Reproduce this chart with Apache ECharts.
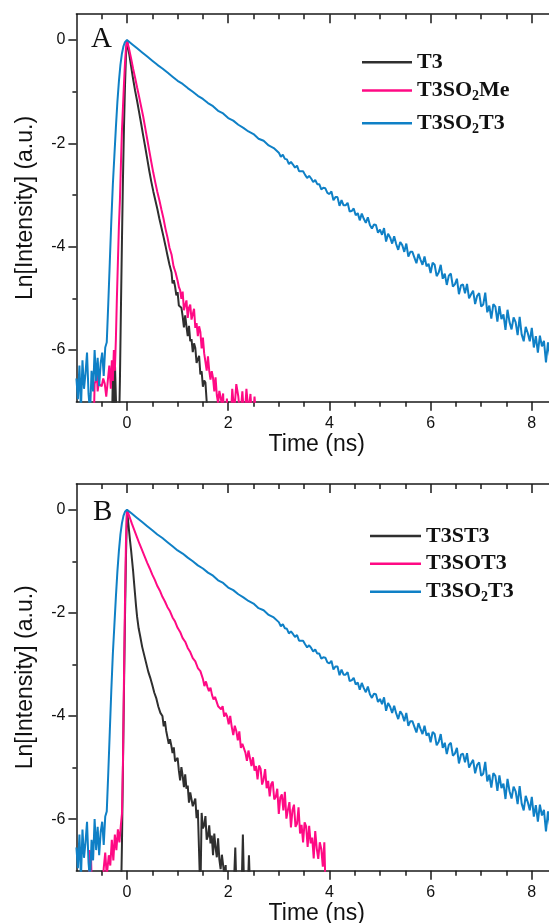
<!DOCTYPE html>
<html>
<head>
<meta charset="utf-8">
<script src="https://cdn.jsdelivr.net/npm/echarts@6.0.0/dist/echarts.min.js"></script>
<style>
html,body{margin:0;padding:0;background:#fff;}
#chart{width:549px;height:923px;}
</style>
</head>
<body>
<div id="chart"></div>
<script>
// ---------- axis ticks ----------
const xMajorTicks = [0, 2, 4, 6, 8];
const xMinorTicks = [-0.5, 0.5, 1, 1.5, 2.5, 3, 3.5, 4.5, 5, 5.5, 6.5, 7, 7.5];
const yMajorTicks = [0, -2, -4, -6];
const yMinorTicks = [-1, -3, -5];

// ---------- T3SO2T3 (same trace in both panels) ----------
const blueT = [-1.00,-0.97,-0.94,-0.91,-0.88,-0.85,-0.82,-0.79,-0.76,-0.73,-0.70,-0.67,-0.64,-0.61,-0.58,-0.55,-0.52,-0.49,-0.46,-0.43,-0.40,-0.37,-0.34,-0.31,-0.28,-0.25,-0.22,-0.19,-0.16,-0.13,-0.10,-0.07,-0.04,0,
0.1,0.2,0.3,0.4,0.5,0.6,0.7,0.8,0.9,1.0,1.1,1.2,1.3,1.4,1.5,1.6,1.7,1.8,1.9,2.0,2.1,2.2,2.3,2.4,2.5,2.6,2.7,2.8,2.9,
3.00,3.04,3.08,3.12,3.16,3.20,3.24,3.28,3.32,3.36,3.40,3.44,3.48,3.52,3.56,3.60,3.64,3.68,3.72,3.76,3.80,3.84,3.88,3.92,3.96,
4.00,4.04,4.08,4.12,4.16,4.20,4.24,4.28,4.32,4.36,4.40,4.44,4.48,4.52,4.56,4.60,4.64,4.68,4.72,4.76,4.80,4.84,4.88,4.92,4.96,
5.00,5.04,5.08,5.12,5.16,5.20,5.24,5.28,5.32,5.36,5.40,5.44,5.48,5.52,5.56,5.60,5.64,5.68,5.72,5.76,5.80,5.84,5.88,5.92,5.96,
6.00,6.04,6.08,6.12,6.16,6.20,6.24,6.28,6.32,6.36,6.40,6.44,6.48,6.52,6.56,6.60,6.64,6.68,6.72,6.76,6.80,6.84,6.88,6.92,6.96,
7.00,7.04,7.08,7.12,7.16,7.20,7.24,7.28,7.32,7.36,7.40,7.44,7.48,7.52,7.56,7.60,7.64,7.68,7.72,7.76,7.80,7.84,7.88,7.92,7.96,
8.00,8.04,8.08,8.12,8.16,8.20,8.24,8.28,8.32,8.36,8.40,8.44,8.48];
const blueY = [-6.55,-6.95,-6.30,-7.15,-6.20,-6.75,-6.45,-6.05,-6.85,-7.20,-6.40,-6.80,-6.00,-6.60,-6.15,-6.70,-6.25,-6.05,-6.50,-5.95,-5.85,-5.10,-4.30,-3.50,-2.80,-2.25,-1.70,-1.20,-0.80,-0.48,-0.26,-0.12,-0.04,0,
-0.08,-0.16,-0.24,-0.32,-0.40,-0.48,-0.55,-0.63,-0.71,-0.79,-0.85,-0.93,-1.00,-1.08,-1.14,-1.22,-1.28,-1.37,-1.42,-1.51,-1.56,-1.64,-1.70,-1.77,-1.82,-1.91,-1.95,-2.04,-2.09,
-2.18,-2.26,-2.22,-2.30,-2.31,-2.40,-2.36,-2.41,-2.47,-2.43,-2.54,-2.54,-2.54,-2.61,-2.67,-2.63,-2.68,-2.75,-2.71,-2.79,-2.79,-2.89,-2.86,-2.87,-2.96,
-2.98,-2.93,-3.10,-3.04,-3.04,-3.21,-3.10,-3.20,-3.20,-3.15,-3.32,-3.31,-3.26,-3.39,-3.35,-3.49,-3.36,-3.46,-3.54,-3.43,-3.58,-3.65,-3.57,-3.58,-3.73,
-3.67,-3.77,-3.64,-3.90,-3.75,-3.82,-3.94,-3.80,-3.95,-4.06,-3.91,-3.97,-4.10,-3.94,-4.19,-4.10,-4.10,-4.21,-4.32,-4.14,-4.25,-4.35,-4.19,-4.38,-4.33,
-4.51,-4.31,-4.35,-4.57,-4.50,-4.35,-4.62,-4.52,-4.74,-4.56,-4.52,-4.77,-4.73,-4.62,-4.92,-4.75,-4.73,-4.90,-4.72,-5.00,-4.92,-4.85,-5.11,-4.95,-4.90,
-5.16,-5.12,-4.89,-5.27,-5.14,-5.39,-5.11,-5.16,-5.45,-5.15,-5.40,-5.31,-5.61,-5.22,-5.46,-5.60,-5.37,-5.46,-5.71,-5.36,-5.70,-5.83,-5.55,-5.67,-5.83,
-5.57,-5.95,-5.73,-6.05,-5.72,-5.93,-5.82,-6.24,-5.85,-6.12,-5.86,-6.10,-6.01];

// ---------- Panel A: T3 ----------
const t3T = [-1.00,-0.30,-0.28,-0.26,-0.24,-0.22,-0.20,-0.16,-0.14,-0.12,-0.10,-0.08,-0.06,-0.04,-0.02,0,
0.04,0.08,0.12,0.16,0.20,0.24,0.28,0.32,0.36,0.40,0.44,0.48,0.52,0.56,0.60,0.64,0.68,0.72,0.76,0.80,0.84,0.88,
0.900,0.925,0.950,0.975,1.000,1.025,1.050,1.075,1.100,1.125,1.150,1.175,1.200,1.225,1.250,1.275,1.300,1.325,1.350,1.375,1.400,1.425,1.450,1.475,1.500,1.525,1.550,1.575,1.600,8.5];
const t3Y = [-7.6,-7.6,-6.5,-7.3,-6.2,-6.9,-7.6,-7.6,-6.6,-5.2,-3.9,-2.7,-1.7,-0.9,-0.3,0,
-0.25,-0.50,-0.75,-0.98,-1.18,-1.40,-1.62,-1.85,-2.07,-2.30,-2.53,-2.74,-2.93,-3.10,-3.27,-3.46,-3.63,-3.80,-3.98,-4.17,-4.35,-4.50,
-4.71,-4.65,-4.77,-4.94,-4.88,-5.14,-5.13,-5.18,-5.35,-5.56,-5.33,-5.54,-5.73,-5.53,-5.83,-5.79,-6.04,-5.87,-5.96,-6.25,-6.22,-6.11,-6.47,-6.41,-6.71,-6.59,-6.63,-7.0,-7.6,-7.6];

// ---------- Panel A: T3SO2Me ----------
const t3so2meT = [-1.00,-0.66,-0.64,-0.62,-0.60,-0.58,-0.56,-0.53,-0.50,-0.47,-0.44,-0.41,-0.38,-0.35,-0.32,-0.30,-0.28,-0.26,-0.24,-0.22,-0.20,-0.18,-0.16,-0.14,-0.12,-0.10,-0.08,-0.06,-0.04,-0.02,0,
0.04,0.08,0.12,0.16,0.20,0.24,0.28,0.32,0.36,0.40,0.44,0.48,0.52,0.56,0.60,0.64,0.68,0.72,0.76,0.80,0.84,0.88,0.92,0.96,
1.000,1.025,1.050,1.075,1.100,1.125,1.150,1.175,1.200,1.225,1.250,1.275,1.300,1.325,1.350,1.375,1.400,1.425,1.450,1.475,1.500,1.525,1.550,1.575,1.600,1.625,1.650,1.675,1.700,1.725,1.750,1.775,1.800,1.825,1.850,1.875,1.900,1.925,1.950,1.975,2.000,
2.04,2.08,2.12,2.16,2.20,2.24,2.28,2.32,2.36,2.40,2.44,2.48,2.52,2.56,2.60,8.5];
const t3so2meY = [-7.6,-7.6,-6.65,-6.60,-6.35,-6.80,-6.65,-6.65,-6.70,-6.55,-6.65,-6.90,-6.60,-6.30,-6.75,-6.20,-6.60,-6.00,-6.40,-5.80,-5.00,-4.30,-3.60,-3.10,-2.40,-1.75,-1.30,-0.85,-0.45,-0.15,0,
-0.17,-0.35,-0.55,-0.73,-0.92,-1.10,-1.29,-1.48,-1.70,-1.92,-2.14,-2.36,-2.57,-2.76,-2.94,-3.10,-3.28,-3.45,-3.65,-3.82,-4.02,-4.15,-4.38,-4.50,
-4.66,-4.78,-4.84,-5.01,-4.87,-5.23,-5.13,-5.04,-5.38,-5.18,-5.12,-5.41,-5.39,-5.20,-5.57,-5.48,-5.73,-5.54,-5.65,-5.97,-5.76,-6.06,-6.06,-6.40,-6.12,-6.40,-6.57,-6.41,-6.54,-6.80,-6.53,-6.87,-7.03,-6.79,-6.91,-7.06,-6.84,-7.6,-7.6,-6.94,-7.6,
-7.6,-6.75,-7.2,-6.66,-6.9,-7.3,-6.8,-7.4,-6.75,-7.2,-6.85,-7.5,-6.9,-7.4,-7.6,-7.6];

// ---------- Panel B: T3ST3 ----------
const t3st3T = [-1.00,-0.12,-0.10,-0.08,-0.06,-0.04,-0.02,0,
0.02,0.04,0.06,0.08,0.10,0.12,0.14,0.16,0.18,0.20,0.23,0.26,0.30,0.34,0.38,0.42,0.46,0.50,0.54,0.58,0.62,0.66,
0.700,0.725,0.750,0.775,0.800,0.825,0.850,0.875,0.900,0.925,0.950,0.975,1.000,1.025,1.050,1.075,1.100,1.125,1.150,1.175,1.200,1.225,1.250,1.275,1.300,1.325,1.350,1.375,
1.400,1.425,1.450,1.475,1.500,1.525,1.550,1.575,1.600,1.625,1.650,1.675,1.700,1.725,1.750,1.775,1.800,1.825,1.850,1.875,1.900,1.925,1.950,1.975,
2.00,2.10,2.14,2.17,2.26,2.29,2.32,2.38,2.41,2.44,8.5];
const t3st3Y = [-7.6,-7.6,-6.5,-5.0,-3.5,-2.1,-0.9,0,
-0.20,-0.40,-0.60,-0.78,-0.98,-1.18,-1.42,-1.65,-1.88,-2.08,-2.30,-2.45,-2.66,-2.82,-2.98,-3.14,-3.26,-3.40,-3.55,-3.66,-3.82,-3.94,
-4.00,-4.20,-4.10,-4.29,-4.32,-4.54,-4.45,-4.57,-4.72,-4.61,-4.88,-4.86,-4.81,-5.06,-5.25,-4.99,-5.16,-5.38,-5.13,-5.41,-5.35,-5.68,-5.48,-5.45,-5.75,-5.73,-5.60,-5.98,
-5.82,-5.79,-7.5,-5.88,-6.18,-6.12,-5.94,-6.40,-6.33,-6.12,-6.47,-6.32,-6.70,-6.28,-6.55,-6.74,-6.37,-6.78,-6.97,-6.69,-6.68,-7.10,-6.89,-7.6,
-7.6,-7.6,-6.55,-7.6,-7.6,-6.30,-7.6,-7.6,-6.70,-7.6,-7.6];

// ---------- Panel B: T3SOT3 ----------
const t3sot3T = [-1.00,-0.76,-0.74,-0.71,-0.69,-0.50,-0.46,-0.43,-0.40,-0.36,-0.33,-0.30,-0.27,-0.24,-0.21,-0.18,-0.15,-0.12,-0.10,-0.08,-0.06,-0.04,-0.02,0,
0.05,0.10,0.15,0.20,0.25,0.30,0.35,0.40,0.45,0.50,0.55,0.60,0.65,0.70,0.75,0.80,0.85,0.90,0.95,1.00,1.05,1.10,1.15,1.20,1.25,1.30,1.35,1.40,1.45,
1.50,1.53,1.56,1.59,1.62,1.65,1.68,1.71,1.74,1.77,1.80,1.83,1.86,1.89,1.92,1.95,1.98,
2.01,2.04,2.07,2.10,2.13,2.16,2.19,2.22,2.25,2.28,2.31,2.34,2.37,2.40,2.43,2.46,2.49,
2.52,2.55,2.58,2.61,2.64,2.67,2.70,2.73,2.76,2.79,2.82,2.85,2.88,2.91,2.94,2.97,
3.00,3.03,3.06,3.09,3.12,3.15,3.18,3.21,3.24,3.27,3.30,3.33,3.36,3.39,3.42,3.45,3.48,
3.51,3.54,3.57,3.60,3.63,3.66,3.69,3.72,3.75,3.78,3.81,3.84,3.87,3.90,3.93,8.5];
const t3sot3Y = [-7.6,-7.6,-6.6,-6.75,-7.6,-7.6,-6.95,-6.65,-7.1,-6.7,-6.9,-6.4,-6.8,-6.3,-6.6,-6.2,-6.45,-6.1,-5.9,-4.9,-3.3,-1.8,-0.6,0,
-0.14,-0.28,-0.41,-0.54,-0.67,-0.79,-0.91,-1.03,-1.14,-1.26,-1.36,-1.48,-1.57,-1.69,-1.78,-1.89,-1.97,-2.09,-2.17,-2.29,-2.37,-2.49,-2.56,-2.68,-2.76,-2.88,-2.94,-3.07,-3.13,
-3.28,-3.42,-3.33,-3.44,-3.52,-3.45,-3.59,-3.68,-3.63,-3.66,-3.81,-3.78,-3.87,-3.81,-4.01,-3.94,-4.01,
-4.16,-4.00,-4.21,-4.37,-4.19,-4.29,-4.47,-4.30,-4.62,-4.54,-4.55,-4.71,-4.87,-4.67,-4.82,-4.97,-4.80,
-5.06,-4.97,-5.23,-4.96,-5.02,-5.33,-5.23,-5.03,-5.40,-5.26,-5.56,-5.32,-5.27,-5.62,-5.57,-5.41,
-5.90,-5.58,-5.52,-5.83,-5.47,-5.99,-5.82,-5.67,-6.16,-5.83,-5.72,-6.15,-6.09,-5.77,-6.28,-6.11,-6.45,
-6.06,-6.14,-6.54,-6.13,-6.47,-6.36,-6.76,-6.23,-6.57,-6.77,-6.45,-6.58,-6.92,-6.45,-7.6,-7.6];

// ---------- helpers ----------
function zip(ts, ys) { return ts.map((t, i) => [t, ys[i]]); }
const COLORS = { black: '#2f2f2f', pink: '#ff0a84', blue: '#0f80c6' };
const AX = '#1a1a1a';
const SANS = '"Liberation Sans", Arial, sans-serif';
const SERIF = '"Liberation Serif", "Times New Roman", serif';

const gridA = { left: 76.4, top: 14.2, width: 480.7, height: 387.5, outerBoundsMode: 'none' };
const gridB = { left: 76.4, top: 483.9, width: 480.7, height: 386.8, outerBoundsMode: 'none' };

function xAxes(gMain, gMinor) {
  const base = { type: 'value', min: -1, max: 8.5, splitLine: { show: false } };
  return [
    Object.assign({}, base, {
      gridIndex: gMain, position: 'bottom',
      axisLine: { show: true, onZero: false, lineStyle: { color: AX, width: 1.5 } },
      axisTick: { show: true, customValues: xMajorTicks, length: 9, lineStyle: { color: AX, width: 1.5 } },
      axisLabel: { show: true, customValues: xMajorTicks, margin: 14, fontSize: 16, fontFamily: SANS, color: '#111' },
      name: 'Time (ns)', nameLocation: 'middle', nameGap: 31,
      nameTextStyle: { fontSize: 23, fontFamily: SANS, color: '#111' }
    }),
    Object.assign({}, base, {
      gridIndex: gMain, position: 'top',
      axisLine: { show: true, onZero: false, lineStyle: { color: AX, width: 1.5 } },
      axisTick: { show: true, inside: true, customValues: xMajorTicks, length: 9, lineStyle: { color: AX, width: 1.5 } },
      axisLabel: { show: false }
    }),
    Object.assign({}, base, {
      gridIndex: gMinor, position: 'bottom',
      axisLine: { show: false, onZero: false },
      axisTick: { show: true, customValues: xMinorTicks, length: 5, lineStyle: { color: AX, width: 1.5 } },
      axisLabel: { show: false }
    }),
    Object.assign({}, base, {
      gridIndex: gMinor, position: 'top',
      axisLine: { show: false, onZero: false },
      axisTick: { show: true, inside: true, customValues: xMinorTicks, length: 5, lineStyle: { color: AX, width: 1.5 } },
      axisLabel: { show: false }
    })
  ];
}
function yAxes(gMain, gMinor) {
  const base = { type: 'value', min: -7, max: 0.5, splitLine: { show: false } };
  return [
    Object.assign({}, base, {
      gridIndex: gMain, position: 'left',
      axisLine: { show: true, onZero: false, lineStyle: { color: AX, width: 1.5 } },
      axisTick: { show: true, customValues: yMajorTicks, length: 8, lineStyle: { color: AX, width: 1.5 } },
      axisLabel: { show: true, customValues: yMajorTicks, margin: 11, fontSize: 16, fontFamily: SANS, color: '#111' },
      name: 'Ln[Intensity] (a.u.)', nameLocation: 'middle', nameGap: 39,
      nameTextStyle: { fontSize: 23, fontFamily: SANS, color: '#111' }
    }),
    Object.assign({}, base, {
      gridIndex: gMinor, position: 'left',
      axisLine: { show: false, onZero: false },
      axisTick: { show: true, customValues: yMinorTicks, length: 4, lineStyle: { color: AX, width: 1.5 } },
      axisLabel: { show: false }
    })
  ];
}

function lineSeries(name, data, color, xi, yi) {
  return {
    name: name, type: 'line', data: data, xAxisIndex: xi, yAxisIndex: yi,
    symbol: 'none', showSymbol: false, clip: true, animation: false,
    lineStyle: { color: color, width: 2 }, itemStyle: { color: color }
  };
}

const rich = {
  n: { fontFamily: SERIF, fontWeight: 'bold', fontSize: 22, lineHeight: 26, color: '#111' },
  s: { fontFamily: SERIF, fontWeight: 'bold', fontSize: 14, lineHeight: 9, verticalAlign: 'bottom', color: '#111' }
};
function legendFmt(name) {
  if (name === 'T3SO2Me') return '{n|T3SO}{s|2}{n|Me}';
  if (name === 'T3SO2T3') return '{n|T3SO}{s|2}{n|T3}';
  return '{n|' + name + '}';
}
function legendItem(name, left, top, w) {
  return {
    data: [name], left: left, top: top, orient: 'vertical', padding: 0,
    icon: 'rect', itemWidth: w, itemHeight: 2.5, selectedMode: false,
    formatter: legendFmt, textStyle: { rich: rich }
  };
}

const option = {
  backgroundColor: '#ffffff',
  animation: false,
  title: [
    { text: 'A', left: 91, top: 25, padding: 0, textStyle: { fontFamily: SERIF, fontSize: 29, fontWeight: 'normal', color: '#111' } },
    { text: 'B', left: 93, top: 498, padding: 0, textStyle: { fontFamily: SERIF, fontSize: 29, fontWeight: 'normal', color: '#111' } }
  ],
  grid: [gridA, Object.assign({}, gridA), gridB, Object.assign({}, gridB)],
  xAxis: xAxes(0, 1).concat(xAxes(2, 3)),
  yAxis: yAxes(0, 1).concat(yAxes(2, 3)),
  legend: [
    legendItem('T3', 362, 51.2, 50),
    legendItem('T3SO2Me', 362, 79.5, 50),
    legendItem('T3SO2T3', 362, 112.2, 50),
    legendItem('T3ST3', 370, 525, 51),
    legendItem('T3SOT3', 370, 552.7, 51),
    legendItem('T3SO2T3', 370, 580.7, 51)
  ],
  series: [
    lineSeries('T3', zip(t3T, t3Y), COLORS.black, 0, 0),
    lineSeries('T3SO2Me', zip(t3so2meT, t3so2meY), COLORS.pink, 0, 0),
    lineSeries('T3SO2T3', zip(blueT, blueY), COLORS.blue, 0, 0),
    lineSeries('T3ST3', zip(t3st3T, t3st3Y), COLORS.black, 4, 2),
    lineSeries('T3SOT3', zip(t3sot3T, t3sot3Y), COLORS.pink, 4, 2),
    lineSeries('T3SO2T3', zip(blueT, blueY), COLORS.blue, 4, 2)
  ]
};

const chart = echarts.init(document.getElementById('chart'), null, { renderer: 'canvas' });
chart.setOption(option);
</script>
</body>
</html>
